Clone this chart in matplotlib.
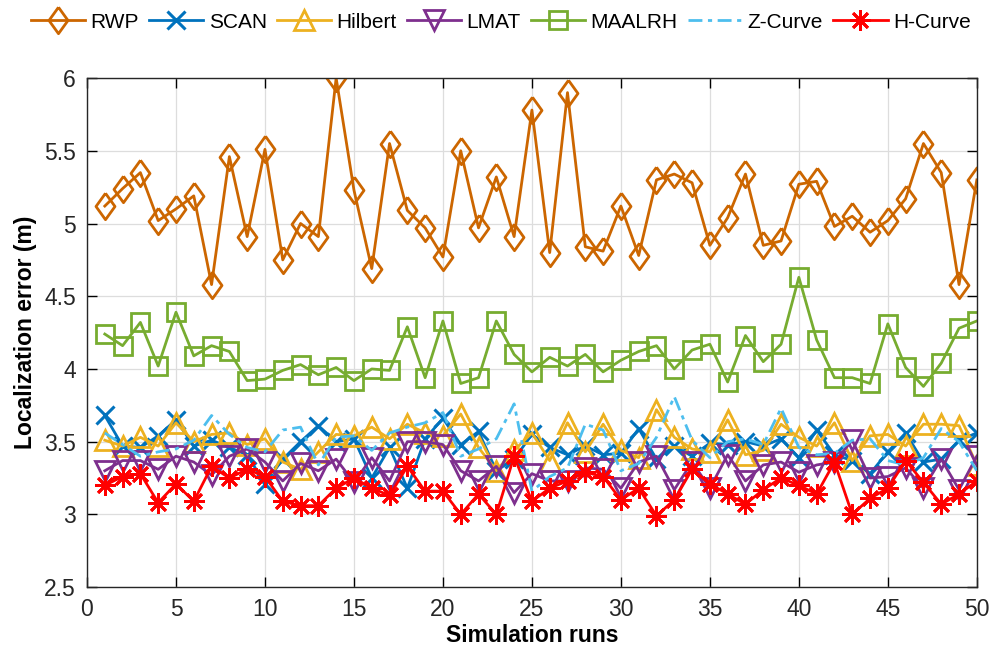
import matplotlib
matplotlib.use("Agg")
import matplotlib.pyplot as plt

plt.rcParams['font.family'] = ['Liberation Sans', 'DejaVu Sans']

runs = list(range(1, 51))

rwp = [5.12, 5.24, 5.35, 5.02, 5.10, 5.19, 4.58, 5.46, 4.91, 5.51,
       4.75, 5.00, 4.91, 6.00, 5.23, 4.69, 5.55, 5.09, 4.97, 4.77,
       5.50, 4.97, 5.32, 4.91, 5.78, 4.80, 5.90, 4.84, 4.81, 5.12,
       4.78, 5.30, 5.34, 5.28, 4.85, 5.04, 5.34, 4.85, 4.88, 5.27,
       5.29, 4.98, 5.05, 4.94, 5.02, 5.17, 5.55, 5.35, 4.58, 5.30]
scan = [3.68, 3.47, 3.46, 3.54, 3.65, 3.47, 3.51, 3.46, 3.41, 3.21,
        3.38, 3.50, 3.61, 3.50, 3.52, 3.25, 3.46, 3.18, 3.52, 3.66,
        3.48, 3.57, 3.30, 3.38, 3.55, 3.46, 3.41, 3.47, 3.41, 3.42,
        3.59, 3.38, 3.47, 3.40, 3.49, 3.48, 3.50, 3.47, 3.52, 3.39,
        3.58, 3.41, 3.37, 3.28, 3.43, 3.56, 3.36, 3.38, 3.51, 3.56]
hilbert = [3.51, 3.47, 3.53, 3.47, 3.63, 3.50, 3.55, 3.56, 3.48, 3.52,
           3.36, 3.31, 3.43, 3.55, 3.54, 3.60, 3.52, 3.62, 3.56, 3.54,
           3.69, 3.46, 3.30, 3.44, 3.56, 3.37, 3.63, 3.43, 3.62, 3.44,
           3.39, 3.72, 3.53, 3.45, 3.43, 3.65, 3.41, 3.44, 3.62, 3.53,
           3.47, 3.63, 3.37, 3.54, 3.55, 3.47, 3.62, 3.62, 3.61, 3.34]
lmat = [3.30, 3.37, 3.37, 3.31, 3.40, 3.36, 3.27, 3.40, 3.45, 3.36,
        3.23, 3.35, 3.30, 3.38, 3.22, 3.39, 3.23, 3.50, 3.50, 3.48,
        3.30, 3.23, 3.33, 3.15, 3.28, 3.23, 3.23, 3.32, 3.31, 3.18,
        3.36, 3.40, 3.17, 3.36, 3.18, 3.41, 3.23, 3.34, 3.36, 3.29,
        3.34, 3.36, 3.51, 3.25, 3.26, 3.32, 3.18, 3.38, 3.17, 3.40]
maalrh = [4.24, 4.16, 4.32, 4.02, 4.39, 4.09, 4.16, 4.12, 3.92, 3.93,
          3.99, 4.03, 3.96, 4.01, 3.92, 4.00, 3.99, 4.29, 3.94, 4.33,
          3.90, 3.94, 4.33, 4.10, 3.98, 4.08, 4.02, 4.10, 3.98, 4.06,
          4.12, 4.16, 4.00, 4.13, 4.17, 3.91, 4.23, 4.05, 4.17, 4.63,
          4.20, 3.94, 3.94, 3.90, 4.31, 4.01, 3.88, 4.04, 4.28, 4.33]
zcurve = [3.56, 3.48, 3.40, 3.43, 3.45, 3.51, 3.68, 3.55, 3.46, 3.43,
          3.58, 3.60, 3.34, 3.53, 3.54, 3.44, 3.56, 3.60, 3.63, 3.70,
          3.40, 3.45, 3.52, 3.76, 3.16, 3.26, 3.32, 3.62, 3.58, 3.30,
          3.35, 3.53, 3.81, 3.51, 3.39, 3.50, 3.52, 3.48, 3.73, 3.46,
          3.41, 3.42, 3.51, 3.52, 3.37, 3.34, 3.39, 3.59, 3.50, 3.30]
hcurve = [3.20, 3.26, 3.28, 3.08, 3.21, 3.09, 3.33, 3.25, 3.31, 3.26,
          3.09, 3.06, 3.06, 3.18, 3.25, 3.18, 3.13, 3.33, 3.16, 3.16,
          3.00, 3.14, 3.00, 3.40, 3.09, 3.18, 3.23, 3.29, 3.26, 3.10,
          3.18, 2.99, 3.10, 3.31, 3.21, 3.14, 3.07, 3.17, 3.25, 3.20,
          3.14, 3.36, 3.00, 3.11, 3.18, 3.37, 3.22, 3.07, 3.14, 3.23]

# MATLAB-like tall diamond
diamond = [(0, 1), (0.72, 0), (0, -1), (-0.72, 0), (0, 1)]

fig = plt.figure(figsize=(9.92, 6.56), dpi=100)
ax = fig.add_axes([0.0877, 0.105, 0.897, 0.776])

lw = 2.0
ax.plot(runs, rwp, color='#CC6600', lw=lw, marker=diamond, ms=19,
        mfc='none', mew=2.0, label='RWP')
ax.plot(runs, scan, color='#0072BD', lw=lw, marker='x', ms=13,
        mew=2.2, label='SCAN')
ax.plot(runs, hilbert, color='#EDB120', lw=lw, marker='^', ms=15,
        mfc='none', mew=2.0, label='Hilbert')
ax.plot(runs, lmat, color='#7E2F8E', lw=lw, marker='v', ms=15,
        mfc='none', mew=2.0, label='LMAT')
ax.plot(runs, maalrh, color='#77AC30', lw=lw, marker='s', ms=13.5,
        mfc='none', mew=2.0, label='MAALRH')
ax.plot(runs, zcurve, color='#4DBEEE', lw=lw, ls=(0, (5, 2, 1.5, 2)),
        label='Z-Curve')
ax.plot(runs, hcurve, color='#FF0000', lw=lw, marker=(8, 2, 0), ms=15,
        mew=2.0, label='H-Curve')

ax.set_xlim(0, 50)
ax.set_ylim(2.5, 6)
ax.set_xticks(range(0, 51, 5))
ax.set_yticks([2.5, 3, 3.5, 4, 4.5, 5, 5.5, 6])
ax.set_yticklabels(['2.5', '3', '3.5', '4', '4.5', '5', '5.5', '6'])
ax.grid(True, color='#dddddd', lw=0.9)
ax.set_axisbelow(True)
ax.tick_params(direction='in', top=True, right=True, labelsize=16.5,
               labelcolor='#262626', length=7, width=1, pad=8)
for s in ax.spines.values():
    s.set_color('#262626')
    s.set_linewidth(1)

ax.set_xlabel('Simulation runs', fontsize=16.5, fontweight='bold', labelpad=2)
ax.set_ylabel('Localization error (m)', fontsize=16.5, fontweight='bold', labelpad=5)

ax.legend(loc='center', bbox_to_anchor=(0.465, 1.11), ncol=7,
          frameon=False, fontsize=15, handlelength=2.6, handletextpad=0.25,
          columnspacing=0.5, borderaxespad=0)

fig.savefig('out.png', dpi=100)
